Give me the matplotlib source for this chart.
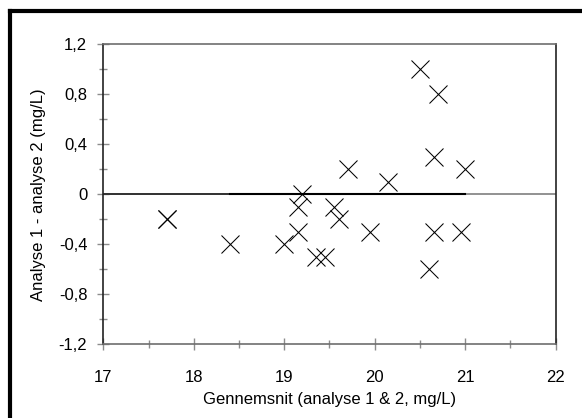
import matplotlib
matplotlib.use("Agg")
import matplotlib.pyplot as plt
from matplotlib.lines import Line2D
from matplotlib.ticker import MultipleLocator, FuncFormatter

plt.rcParams['font.family'] = ['Liberation Sans', 'DejaVu Sans']

# gennemsnit og differens for hver prøve
gennemsnit = [17.7, 17.7, 18.4, 19.0, 19.15, 19.15, 19.2, 19.35, 19.45, 19.55,
              19.6, 19.7, 19.95, 20.15, 20.5, 20.6, 20.65, 20.65, 20.7, 20.95, 21.0]
differens = [-0.2, -0.2, -0.4, -0.4, -0.1, -0.3, 0.0, -0.5, -0.5, -0.1,
             -0.2, 0.2, -0.3, 0.1, 1.0, -0.6, 0.3, -0.3, 0.8, -0.3, 0.2]

# nul-linje (middel af differenser)
linje_x = [17, 21]
linje_y = [0, 0]
linje2_x = [18.4, 21]
linje2_y = [0, 0]

fig = plt.figure(figsize=(5.82, 4.18), dpi=100)
ax = fig.add_axes([0.1775, 0.1763, 0.7773, 0.7177])

ax.axhline(0, color='#7f7f7f', lw=1.2, zorder=1)
ax.plot(linje_x, linje_y, color='#333333', lw=1.4, zorder=2)
ax.plot(linje2_x, linje2_y, color='black', lw=1.5, zorder=2)
ax.plot(gennemsnit, differens, 'x', color='black', markersize=12.5,
        markeredgewidth=0.75, zorder=3)

ax.set_xlim(17, 22)
ax.set_ylim(-1.2, 1.2)
ax.xaxis.set_major_locator(MultipleLocator(1))
ax.xaxis.set_minor_locator(MultipleLocator(0.5))
ax.yaxis.set_major_locator(MultipleLocator(0.4))
ax.yaxis.set_minor_locator(MultipleLocator(0.2))

def komma(v, pos):
    if abs(v) < 1e-9:
        return "0"
    return ("%.1f" % v).replace(".", ",")

ax.yaxis.set_major_formatter(FuncFormatter(komma))

ax.tick_params(which='both', direction='inout', color='#8c8c8c', labelsize=12)
ax.tick_params(which='major', length=8, width=1)
ax.tick_params(which='minor', length=6, width=1)
ax.tick_params(axis='y', pad=7.5)
ax.tick_params(axis='x', pad=14.5)

for s in ['top', 'bottom']:
    ax.spines[s].set_color('#6e6e6e')
for s in ['left', 'right']:
    ax.spines[s].set_color('#222222')
for s in ax.spines.values():
    s.set_linewidth(1.2)

ax.set_xlabel('Gennemsnit (analyse 1 & 2, mg/L)', fontsize=12, labelpad=5)
ax.set_ylabel('Analyse 1 - analyse 2 (mg/L)', fontsize=12, labelpad=9)

# ramme om figuren (kun top og venstre synlig)
fig.add_artist(Line2D([10 / 582, 1], [1 - 11 / 418, 1 - 11 / 418],
                      transform=fig.transFigure, color='black', lw=3))
fig.add_artist(Line2D([10 / 582, 10 / 582], [0, 1 - 11 / 418],
                      transform=fig.transFigure, color='black', lw=3))

fig.savefig('out.png', dpi=100)
